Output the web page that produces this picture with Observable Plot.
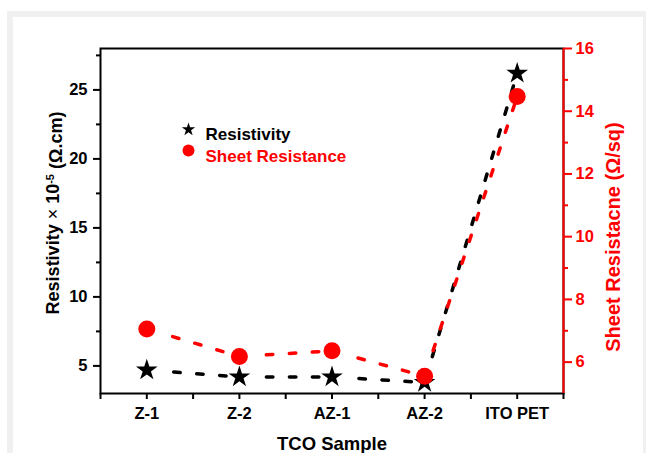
<!DOCTYPE html>
<html><head><meta charset="utf-8">
<script src="https://cdn.jsdelivr.net/npm/d3@7"></script>
<script src="https://cdn.jsdelivr.net/npm/@observablehq/plot@0.6"></script>
<style>
body{margin:0;background:#fff;}
#wrap{position:relative;width:646px;height:453px;overflow:hidden;}
#border{position:absolute;left:7px;top:11px;width:642px;height:470px;border:6px solid #f0f0f0;box-sizing:border-box;}
#chart{position:absolute;left:0;top:0;}
</style></head><body><div id="wrap"><div id="border"></div><div id="chart"></div></div>
<script>
// ---- data ----
const samples = ["Z-1", "Z-2", "AZ-1", "AZ-2", "ITO PET"];
const resistivity = [4.7, 4.2, 4.2, 3.8, 26.2];          // × 10^-5 Ω.cm
const sheetResistance = [7.06, 6.18, 6.36, 5.55, 14.47];  // Ω/sq
const leftTicks = [5, 10, 15, 20, 25];
const leftMinor = [7.5, 12.5, 17.5, 22.5, 27.5];
const rightTicks = [6, 8, 10, 12, 14, 16];
const rightMinor = [7, 9, 11, 13, 15];
const leftDomain = [3, 28];
const rightDomain = [5, 16];

// map right-axis values onto the left scale
const k = (leftDomain[1] - leftDomain[0]) / (rightDomain[1] - rightDomain[0]);
const toLeft = v => leftDomain[0] + (v - rightDomain[0]) * k;

const rows = samples.map((s, i) => ({i, s, r: resistivity[i], sr: toLeft(sheetResistance[i])}));
const segs = rows.slice(0, -1).map((d, j) => ({a: d, b: rows[j + 1]}));
const xMajor = samples.map((_, i) => i);
const xMinor = d3.range(-0.5, samples.length, 1);

// dash pattern: leading gap near each symbol, then regular dashes
const dashArr = [];
for (let n = 0; n < 16; n++) dashArr.push(6.5, 16.5);
dashArr[dashArr.length - 1] = 60;
const dash = dashArr.join(",");
const lineOpts = {strokeWidth: 3.5, strokeDasharray: dash, strokeDashoffset: -27, strokeLinecap: "round"};

const FONT = "'Liberation Sans', Arial, sans-serif";
const TICK_FS = 16.5;

const chart = Plot.plot({
  width: 646, height: 453,
  marginLeft: 100, marginRight: 83, marginTop: 48, marginBottom: 60,
  style: {fontFamily: FONT, fontWeight: "bold", background: "transparent", overflow: "visible"},
  x: {type: "linear", domain: [-0.5, samples.length - 0.5], axis: null},
  y: {domain: leftDomain, axis: null},
  marks: [
    // lines
    Plot.link(segs, {x1: d => d.a.i, y1: d => d.a.r, x2: d => d.b.i, y2: d => d.b.r, stroke: "black", ...lineOpts}),
    Plot.link(segs, {x1: d => d.a.i, y1: d => d.a.sr, x2: d => d.b.i, y2: d => d.b.sr, stroke: "red", ...lineOpts}),
    // symbols
    Plot.dot(rows, {x: "i", y: "r", symbol: "star", r: 6.8, fill: "black", stroke: null}),
    Plot.dot(rows, {x: "i", y: "sr", r: 8.5, fill: "red", stroke: null}),
    // frame
    Plot.frame({stroke: "black", strokeWidth: 2}),
    Plot.ruleX([samples.length - 0.5], {stroke: "red", strokeWidth: 2}),
    // x axis ticks + labels
    Plot.axisX(xMajor, {anchor: "bottom", tickSize: 6, strokeWidth: 2, tickFormat: () => "", label: null}),
    Plot.axisX(xMinor, {anchor: "bottom", tickSize: 6, strokeWidth: 2, tickFormat: () => "", label: null}),
    Plot.text(xMajor, {x: d => d, text: i => samples[i], frameAnchor: "bottom", lineAnchor: "top", dy: 14,
      fontSize: TICK_FS, fontWeight: "bold", fill: "black"}),
    // left axis
    Plot.axisY(leftTicks, {anchor: "left", tickSize: 7, strokeWidth: 2, tickFormat: () => "", label: null}),
    Plot.axisY(leftMinor, {anchor: "left", tickSize: 4, strokeWidth: 2, tickFormat: () => "", label: null}),
    Plot.text(leftTicks, {y: d => d, text: d => String(d), frameAnchor: "left", textAnchor: "end", dx: -13,
      fontSize: TICK_FS, fontWeight: "bold", fill: "black"}),
    // right axis (red)
    Plot.axisY(rightTicks.map(toLeft), {anchor: "right", tickSize: 8, strokeWidth: 2, color: "red",
      tickFormat: () => "", label: null}),
    Plot.axisY(rightMinor.map(toLeft), {anchor: "right", tickSize: 4, strokeWidth: 2, color: "red",
      tickFormat: () => "", label: null}),
    Plot.text(rightTicks, {y: d => toLeft(d), text: d => String(d), frameAnchor: "right", textAnchor: "start", dx: 12,
      fontSize: TICK_FS, fontWeight: "bold", fill: "red"}),
    // axis titles
    Plot.text(["TCO Sample"], {frameAnchor: "bottom", dy: 51, fontSize: 18.5, fontWeight: "bold", fill: "black", lineAnchor: "middle"}),
    Plot.text(["Resistivity × 10^-5 (Ω.cm)"], {frameAnchor: "left", dx: -47, dy: -8, rotate: -90, textAnchor: "middle",
      fontSize: 18, fontWeight: "bold", fill: "black"}),
    Plot.text(["Sheet Resistacne (Ω/sq)"], {frameAnchor: "right", dx: 50, dy: 16, rotate: -90, textAnchor: "middle",
      fontSize: 20, fontWeight: "bold", fill: "red"}),
    // legend
    Plot.dot([0], {frameAnchor: "top-left", dx: 88, dy: 81, symbol: "star", r: 4.2, fill: "black", stroke: null}),
    Plot.dot([0], {frameAnchor: "top-left", dx: 88, dy: 102, r: 6, fill: "red", stroke: null}),
    Plot.text(["Resistivity"], {frameAnchor: "top-left", dx: 105, dy: 79, textAnchor: "start",
      fontSize: 17, fontWeight: "bold", fill: "black"}),
    Plot.text(["Sheet Resistance"], {frameAnchor: "top-left", dx: 105, dy: 101, textAnchor: "start",
      fontSize: 17, fontWeight: "bold", fill: "red"})
  ]
});
document.getElementById("chart").appendChild(chart);

// superscript in the left axis title
d3.select(chart).selectAll("text").each(function () {
  const t = this.textContent;
  if (t === "Resistivity × 10^-5 (Ω.cm)") {
    const sel = d3.select(this);
    sel.text(null);
    sel.append("tspan").text("Resistivity ");
    sel.append("tspan").text("×").attr("font-weight", "normal");
    sel.append("tspan").text(" 10");
    sel.append("tspan").text("-5").attr("font-size", "11").attr("dy", "-0.45em");
    sel.append("tspan").text(" (Ω.cm)").attr("dy", "0.45em");
  }
});
</script></body></html>
